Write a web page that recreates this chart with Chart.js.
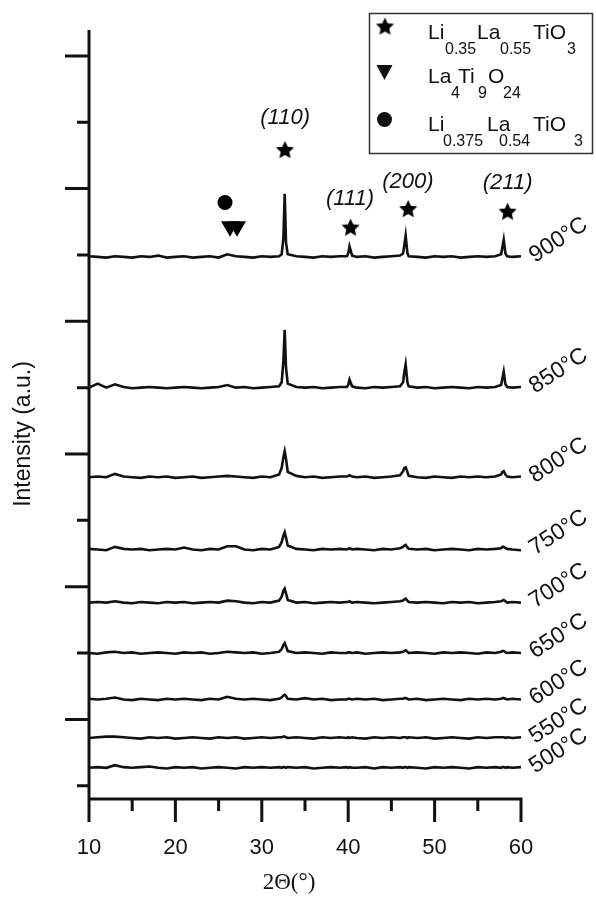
<!DOCTYPE html>
<html>
<head>
<meta charset="utf-8">
<script src="https://cdn.jsdelivr.net/npm/chart.js@4"></script>
<style>
  html, body { margin: 0; padding: 0; background: #fff; }
</style>
</head>
<body>
<canvas id="xrdChart" width="596" height="897"></canvas>
<script>
// 2-theta grid (deg), denser around the reflections
const twoTheta = [
  10, 11, 12, 13, 14, 15, 16, 17, 18, 19, 20, 21, 22, 23, 24, 25, 26, 27, 28, 29, 30, 31,
  32, 32.3, 32.5, 32.65, 32.8, 33,
  34, 35, 36, 37, 38, 39,
  39.85, 40, 40.15, 40.45,
  41, 42, 43, 44, 45, 46,
  46.35, 46.5, 46.65, 46.85, 47,
  48, 49, 50, 51, 52, 53, 54, 55, 56, 57,
  57.7, 57.85, 58, 58.2, 58.4,
  59, 60
];

const temperatures = ['500°C', '550°C', '600°C', '650°C', '700°C', '750°C', '800°C', '850°C', '900°C'];
// vertical offset of each pattern (a.u.)
const offsets = [27, 72, 130, 200, 276, 356, 465, 600, 797];

// intensities above each pattern's baseline (a.u.)
const i500 = [
  0, 1, 0, 4, 1, 0, 1, 2, 0, -1, 1, 0, 1, -1, 0, 1, 0, -1, 1, 0, 1, 0,
  1, 0, 1, 1, 0, 1,
  0, 1, -1, 0, 1, 0,
  1, 0, 1, 0,
  0, 1, -1, 1, 0, 1,
  0, 1, 1, 0, 1,
  0, -1, 1, 0, 1, 0, -1, 1, 0, 1,
  0, 1, 1, 0, 1,
  0, 1
];
const i550 = [
  0, 1, 2, 2, 1, 0, -1, 1, 0, 1, -1, 0, 1, 0, -1, 1, 0, 1, -1, 0, 1, 0,
  1, 1, 2, 2, 1, 0,
  1, 0, -1, 1, 0, 1,
  0, 1, 0, 1,
  0, -1, 1, 0, 1, 0,
  1, 1, 1, 0, 1,
  0, 1, -1, 0, 1, 0, -1, 1, 0, 1,
  1, 1, 1, 0, 1,
  0, 1
];
const i600 = [
  1, 0, 1, 3, 0, -1, 1, 0, -1, 1, 0, 1, 0, -1, 1, 0, 4, 1, 0, 1, 0, -1,
  1, 3, 6, 7, 5, 1,
  0, 2, 0, 1, -1, 0,
  0, 1, 1, 0,
  1, 0, 1, -1, 0, 1,
  1, 2, 2, 1, 0,
  1, -1, 0, 1, 0, -1, 1, 0, 1, 0,
  1, 2, 2, 1, 0,
  1, 0
];
const i650 = [
  0, -1, 1, 2, 0, 1, -1, 0, 1, 0, -1, 1, 0, 1, -1, 0, 2, 1, 0, 1, -1, 0,
  2, 6, 12, 15, 10, 3,
  0, 1, 0, -1, 1, 0,
  0, 1, 1, 0,
  1, -1, 0, 1, 0, 1,
  2, 3, 4, 2, 0,
  1, 0, -1, 1, 0, 1, 0, -1, 1, 0,
  2, 3, 3, 1, 0,
  1, 0
];
const i700 = [
  0, 1, 0, 2, 0, -1, 1, 0, -1, 1, 0, 1, -1, 0, 1, 0, 3, 2, 0, -1, 1, 0,
  3, 9, 18, 21, 14, 4,
  0, 1, -1, 0, 1, 0,
  1, 1, 2, 0,
  1, 0, -1, 0, 1, 2,
  3, 5, 6, 3, 1,
  0, 1, 0, -1, 1, 0, 1, -1, 0, 1,
  2, 3, 4, 2, 0,
  1, 0
];
const i750 = [
  1, 0, -1, 4, 1, 0, 1, -1, 0, 1, 0, 3, 0, -1, 1, 0, 5, 5, 0, -1, 1, 0,
  4, 11, 21, 26, 18, 6,
  1, 0, -1, 1, 0, 1,
  0, 1, 2, 0,
  1, 0, -1, 1, 0, 2,
  4, 6, 7, 3, 1,
  0, 1, -1, 0, 1, 0, -1, 1, 0, 1,
  2, 4, 4, 2, 1,
  0, -1
];
const i800 = [
  0, 1, 0, 5, 1, 0, -1, 1, 0, 1, -1, 0, 1, -1, 0, 1, 2, 1, 0, -1, 1, 0,
  4, 14, 30, 39, 28, 8,
  2, 0, 1, -1, 0, 1,
  1, 2, 3, 1,
  0, 1, -1, 0, 1, 3,
  9, 14, 15, 8, 2,
  0, -1, 1, 0, -1, 1, 0, 1, 0, 1,
  4, 8, 9, 4, 1,
  0, 1
];
const i850 = [
  0, 6, 0, 5, 1, -1, 0, 1, 0, -1, 0, 1, 0, -1, 0, 1, 4, 0, 1, -1, 0, 1,
  2, 8, 40, 87, 30, 6,
  1, 0, 1, -1, 0, 1,
  1, 4, 12, 2,
  0, -1, 1, 0, 1, 2,
  8, 24, 35, 8, 2,
  0, 1, -1, 0, 1, 0, -1, 1, 0, 1,
  4, 14, 24, 5, 1,
  0, 1
];
const i900 = [
  1, 0, -1, 1, 0, -1, 1, 0, 2, -1, 0, 1, -1, 0, 1, -1, 4, 1, 0, -1, 1, 0,
  1, 4, 28, 95, 22, 4,
  1, 0, -1, 1, 0, 1,
  1, 5, 16, 2,
  0, 1, -1, 0, 1, 2,
  5, 18, 32, 6, 1,
  0, -1, 1, 0, 1, -1, 0, 1, 0, 1,
  4, 15, 26, 5, 1,
  0, 1
];
const patterns = [i500, i550, i600, i650, i700, i750, i800, i850, i900];

// phase markers and reflection labels
const starX = [32.68, 40.28, 46.94, 58.45];
const starY = [959, 842, 870, 866];
const hklLabels = ['(110)', '(111)', '(200)', '(211)'];
const hklX = [32.7, 40.2, 46.9, 58.45];
const hklY = [1007, 884, 910, 908];
const triangleX = [26.32, 27.13];
const triangleY = [843, 843];
const circleX = [25.74];
const circleY = [879];

// axis ticks (no labels on the intensity axis)
const xMajor = [10, 20, 30, 40, 50, 60];
const xMinor = [15, 25, 35, 45, 55];
const yMajor = [100, 300, 500, 700, 900, 1100];
const yMinor = [0, 200, 400, 600, 800, 1000];

const SANS = "'Liberation Sans', Arial, sans-serif";
const SERIF = "'Liberation Serif', 'Times New Roman', serif";
const INK = '#111';

function makeStar(size) {
    const c = document.createElement('canvas');
    c.width = size; c.height = size;
    const g = c.getContext('2d');
    const R = size / 2, r = R * 0.48;
    g.beginPath();
    for (let i = 0; i < 10; i++) {
        const a = -Math.PI / 2 + i * Math.PI / 5;
        const rad = i % 2 ? r : R;
        g.lineTo(R + rad * Math.cos(a), R + 1 + rad * Math.sin(a));
    }
    g.closePath();
    g.fillStyle = '#000';
    g.fill();
    return c;
}
const starImg = makeStar(19);

const datasets = patterns.map((vals, k) => ({
    type: 'line',
    label: temperatures[k],
    data: twoTheta.map((x, i) => ({ x: x, y: offsets[k] + vals[i] })),
    borderColor: INK,
    borderWidth: 2.6,
    pointRadius: 0,
    tension: 0,
    fill: false
}));

datasets.push({
    type: 'scatter',
    label: 'Li0.35La0.55TiO3',
    data: starX.map((x, i) => ({ x: x, y: starY[i] })),
    pointStyle: starImg,
    pointRadius: 8
});
datasets.push({
    type: 'scatter',
    label: 'La4Ti9O24',
    data: triangleX.map((x, i) => ({ x: x, y: triangleY[i] })),
    pointStyle: 'triangle',
    rotation: 180,
    pointRadius: 10.4,
    backgroundColor: '#000',
    borderWidth: 0
});
datasets.push({
    type: 'scatter',
    label: 'Li0.375La0.54TiO3',
    data: circleX.map((x, i) => ({ x: x, y: circleY[i] })),
    pointStyle: 'circle',
    pointRadius: 7.5,
    backgroundColor: '#000',
    borderWidth: 0
});

// axes, temperature tags, hkl labels, axis titles and the phase legend
const decorations = {
    id: 'decorations',
    afterDraw(chart) {
        const { ctx, chartArea: area, scales: { x, y } } = chart;
        ctx.save();
        ctx.strokeStyle = INK;
        ctx.fillStyle = INK;
        ctx.lineWidth = 3;
        ctx.lineCap = 'butt';

        ctx.beginPath();
        ctx.moveTo(area.left, area.top);
        ctx.lineTo(area.left, area.bottom + 1.5);
        ctx.moveTo(area.left - 1.5, area.bottom);
        ctx.lineTo(area.right + 1.5, area.bottom);
        yMajor.forEach(v => { const p = y.getPixelForValue(v); ctx.moveTo(area.left - 24, p); ctx.lineTo(area.left, p); });
        yMinor.forEach(v => { const p = y.getPixelForValue(v); ctx.moveTo(area.left - 12, p); ctx.lineTo(area.left, p); });
        xMajor.forEach(v => { const p = x.getPixelForValue(v); ctx.moveTo(p, area.bottom); ctx.lineTo(p, area.bottom + 23); });
        xMinor.forEach(v => { const p = x.getPixelForValue(v); ctx.moveTo(p, area.bottom); ctx.lineTo(p, area.bottom + 12); });
        ctx.stroke();

        // temperature tags
        ctx.font = '23px ' + SANS;
        ctx.textAlign = 'left';
        ctx.textBaseline = 'alphabetic';
        temperatures.forEach((t, k) => {
            ctx.save();
            ctx.translate(area.right + 14, y.getPixelForValue(offsets[k]) + 6);
            ctx.rotate(-33 * Math.PI / 180);
            ctx.fillText(t, 0, 0);
            ctx.restore();
        });

        // reflection labels
        ctx.font = 'italic 22px ' + SANS;
        ctx.textAlign = 'center';
        ctx.textBaseline = 'middle';
        hklLabels.forEach((t, i) => ctx.fillText(t, x.getPixelForValue(hklX[i]), y.getPixelForValue(hklY[i])));

        // axis titles
        ctx.font = '23px ' + SERIF;
        ctx.fillText('2Θ(°)', 289, 883);
        ctx.save();
        ctx.translate(23.5, 434);
        ctx.rotate(-Math.PI / 2);
        ctx.font = '23px ' + SANS;
        ctx.fillText('Intensity (a.u.)', 0, 0);
        ctx.restore();

        // legend box
        ctx.lineWidth = 1.5;
        ctx.strokeStyle = '#333';
        ctx.strokeRect(369.5, 13.5, 223, 140);
        ctx.drawImage(starImg, 385 - starImg.width / 2, 26 - starImg.height / 2);
        ctx.beginPath();
        ctx.moveTo(376.5, 65); ctx.lineTo(392.5, 65); ctx.lineTo(384.5, 80); ctx.closePath();
        ctx.fill();
        ctx.beginPath();
        ctx.arc(384.5, 119.5, 7.5, 0, Math.PI * 2);
        ctx.fill();

        const main = '21px ' + SANS, sub = '16px ' + SANS;
        const rows = [
            [['Li', 428, 39, main], ['0.35', 445, 54, sub], ['La', 477, 39, main], ['0.55', 500, 54, sub], ['TiO', 533, 39, main], ['3', 567, 54, sub]],
            [['La', 428, 83, main], ['4', 451, 98, sub], ['Ti', 458, 83, main], ['9', 478, 98, sub], ['O', 488, 83, main], ['24', 503, 98, sub]],
            [['Li', 428, 131, main], ['0.375', 443, 146, sub], ['La', 487, 131, main], ['0.54', 499, 146, sub], ['TiO', 533, 131, main], ['3', 574, 146, sub]]
        ];
        ctx.textAlign = 'left';
        ctx.textBaseline = 'alphabetic';
        rows.forEach(row => row.forEach(([t, px, py, f]) => { ctx.font = f; ctx.fillText(t, px, py); }));
        ctx.restore();
    }
};

new Chart(document.getElementById('xrdChart'), {
    type: 'line',
    data: { datasets: datasets },
    options: {
        responsive: false,
        animation: false,
        devicePixelRatio: 1,
        layout: { padding: { top: 30, right: 75, bottom: 0, left: 0 } },
        plugins: {
            legend: { display: false },
            tooltip: { enabled: false }
        },
        scales: {
            x: {
                type: 'linear',
                min: 10,
                max: 60,
                ticks: { stepSize: 10, padding: 36, color: INK, font: { family: SANS, size: 22 } },
                grid: { display: false, drawTicks: false },
                border: { display: false },
                afterFit: s => { s.height = 98; s.paddingLeft = 0; s.paddingRight = 0; }
            },
            y: {
                type: 'linear',
                min: -20,
                max: 1139,
                ticks: { display: false },
                grid: { display: false, drawTicks: false },
                border: { display: false },
                afterFit: s => { s.width = 89; }
            }
        }
    },
    plugins: [decorations]
});
</script>
</body>
</html>
